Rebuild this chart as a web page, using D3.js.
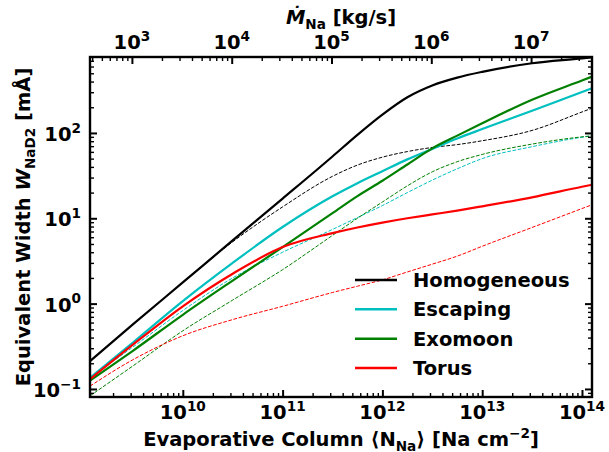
<!DOCTYPE html>
<html>
<head>
<meta charset="utf-8">
<script src="https://cdn.jsdelivr.net/npm/d3@7"></script>
<style>
  body { margin: 0; background: #fff; }
  svg text { font-family: "DejaVu Sans", sans-serif; font-weight: bold; fill: #000; }
</style>
</head>
<body>
<svg id="chart" width="609" height="452"></svg>
<script>
// Evaporative sodium column density <N_Na> [Na cm^-2]
const columnDensity = [1.175e9, 3.16e9, 1e10, 3.16e10, 1e11, 3.16e11, 5.62e11, 1e12,
                       1.78e12, 3.16e12, 5.62e12, 1e13, 3.16e13, 1e14, 1.26e14];

// Equivalent width of Na D2 [mÅ], solid curves
const homogeneous = [0.212, 0.57, 1.77, 5.5, 17, 53, 95, 164, 262, 360, 445, 520, 655, 748, 770];
const escaping    = [0.135, 0.35, 1.07, 3.0, 7.9, 18.1, 25.8, 35.6, 49, 65, 86, 111, 182, 302, 334];
const exomoon     = [0.125, 0.28, 0.74, 1.86, 4.6, 11.5, 18.2, 27.5, 42.7, 66, 93, 130, 245, 412, 457];
const torus       = [0.13, 0.33, 0.93, 2.24, 4.6, 6.7, 7.8, 8.9, 10, 11.1, 12.3, 13.8, 17.6, 23.4, 24.7];

// Equivalent width of Na D2 [mÅ], dashed companion curves
const homogeneousDashed = [0.212, 0.57, 1.77, 5.3, 13.6, 31, 42, 52, 60.5, 67.6, 73, 81, 107, 176, 195];
const escapingDashed    = [0.135, 0.31, 0.83, 2.0, 4.0, 7.4, 10.2, 14.1, 20, 28, 38, 50, 69, 89, 92.5];
const exomoonDashed     = [0.083, 0.186, 0.48, 1.1, 2.5, 6.3, 10, 15.5, 24, 35, 46, 56, 74, 90, 92.5];
const torusDashed       = [0.108, 0.22, 0.42, 0.65, 0.93, 1.35, 1.6, 1.9, 2.35, 2.9, 3.6, 4.7, 7.8, 13, 14.4];

const seriesNames = ["Homogeneous", "Escaping", "Exomoon", "Torus"];
const seriesColors = ["#000000", "#00bfbf", "#008000", "#ff0000"];

// Tick exponents
const bottomExponents = [10, 11, 12, 13, 14];
const topExponents = [3, 4, 5, 6, 7];
const leftExponents = [-1, 0, 1, 2];

// Conversion from column density to sodium mass-loss rate [kg/s]
const massRatePerColumn = Math.pow(10, -6.49);

const xDomain = [1.175e9, 1.26e14];
const yDomain = [0.0805, 776];

const svg = d3.select("#chart");
const margin = { left: 90, right: 592, top: 57, bottom: 397 };

const x = d3.scaleLog().domain(xDomain).range([margin.left, margin.right]);
const xTop = d3.scaleLog().domain(xDomain.map(v => v * massRatePerColumn)).range([margin.left, margin.right]);
const y = d3.scaleLog().domain(yDomain).range([margin.bottom, margin.top]);

function minorTicks(scale) {
  const [a, b] = scale.domain();
  const out = [];
  for (let d = Math.floor(Math.log10(a)); d <= Math.ceil(Math.log10(b)); d++) {
    for (let k = 2; k <= 9; k++) {
      const v = k * Math.pow(10, d);
      if (v >= a && v <= b) out.push(v);
    }
  }
  return out;
}

function drawTicks(axisFn, scale, majors, transform) {
  const gMaj = svg.append("g").attr("transform", transform)
    .call(axisFn(scale).tickValues(majors).tickSize(-7).tickFormat(""));
  gMaj.select(".domain").remove();
  gMaj.selectAll("line").attr("stroke", "#000").attr("stroke-width", 2);
  const gMin = svg.append("g").attr("transform", transform)
    .call(axisFn(scale).tickValues(minorTicks(scale)).tickSize(-4).tickFormat(""));
  gMin.select(".domain").remove();
  gMin.selectAll("line").attr("stroke", "#000").attr("stroke-width", 1.4);
}

const pow10 = e => Math.pow(10, e);

// Curves
const line = d3.line()
  .x(d => x(d[0]))
  .y(d => y(d[1]))
  .curve(d3.curveMonotoneX);

const plot = svg.append("g");
const dashedSets = [homogeneousDashed, escapingDashed, exomoonDashed, torusDashed];
const solidSets = [homogeneous, escaping, exomoon, torus];

dashedSets.forEach((vals, i) => {
  plot.append("path")
    .datum(columnDensity.map((n, j) => [n, vals[j]]))
    .attr("d", line)
    .attr("fill", "none")
    .attr("stroke", seriesColors[i])
    .attr("stroke-width", 1)
    .attr("stroke-dasharray", "3.7,1.6");
});
solidSets.forEach((vals, i) => {
  plot.append("path")
    .datum(columnDensity.map((n, j) => [n, vals[j]]))
    .attr("d", line)
    .attr("fill", "none")
    .attr("stroke", seriesColors[i])
    .attr("stroke-width", 2.2);
});

// Ticks on all four sides, pointing inward
drawTicks(d3.axisBottom, x, bottomExponents.map(pow10), `translate(0,${margin.bottom})`);
drawTicks(d3.axisTop, xTop, topExponents.map(pow10), `translate(0,${margin.top})`);
drawTicks(d3.axisLeft, y, leftExponents.map(pow10), `translate(${margin.left},0)`);
drawTicks(d3.axisRight, y, leftExponents.map(pow10), `translate(${margin.right},0)`);

// Frame
svg.append("rect")
  .attr("x", margin.left).attr("y", margin.top)
  .attr("width", margin.right - margin.left)
  .attr("height", margin.bottom - margin.top)
  .attr("fill", "none").attr("stroke", "#000").attr("stroke-width", 2.4);

// Power-of-ten labels
const tickFont = 19.5;
function powerLabel(g, px, py, exp, anchor) {
  const t = g.append("text")
    .attr("x", px).attr("y", py)
    .attr("text-anchor", anchor)
    .style("font-size", tickFont + "px");
  t.append("tspan").text("10");
  t.append("tspan")
    .attr("dy", -0.42 * tickFont)
    .style("font-size", (tickFont * 0.7) + "px")
    .text(exp < 0 ? "\u2212" + (-exp) : String(exp));
}

const labels = svg.append("g");
bottomExponents.forEach(e => powerLabel(labels, x(pow10(e)), 419, e, "middle"));
topExponents.forEach(e => powerLabel(labels, xTop(pow10(e)), 49, e, "middle"));
leftExponents.forEach(e => powerLabel(labels, 81, y(pow10(e)) + 8, e, "end"));

// Axis titles
const titleFont = 19.5, subFont = 13.6;
const xTitle = svg.append("text")
  .attr("x", (margin.left + margin.right) / 2).attr("y", 446)
  .attr("text-anchor", "middle")
  .style("font-size", titleFont + "px");
xTitle.append("tspan").text("Evaporative Column \u27E8N");
xTitle.append("tspan").attr("dy", 4.5).style("font-size", subFont + "px").text("Na");
xTitle.append("tspan").attr("dy", -4.5).text("\u27E9 [Na cm");
xTitle.append("tspan").attr("dy", -8).style("font-size", subFont + "px").text("\u22122");
xTitle.append("tspan").attr("dy", 8).text("]");

const topTitle = svg.append("text")
  .attr("x", (margin.left + margin.right) / 2).attr("y", 24)
  .attr("text-anchor", "middle")
  .style("font-size", titleFont + "px");
topTitle.append("tspan").style("font-style", "italic").text("\u1E40");
topTitle.append("tspan").attr("dy", 4.5).style("font-size", subFont + "px").text("Na");
topTitle.append("tspan").attr("dy", -4.5).text(" [kg/s]");

const yTitle = svg.append("text")
  .attr("transform", `translate(30,${(margin.top + margin.bottom) / 2}) rotate(-90)`)
  .attr("text-anchor", "middle")
  .style("font-size", titleFont + "px");
yTitle.append("tspan").text("Equivalent Width ");
yTitle.append("tspan").style("font-style", "italic").text("W");
yTitle.append("tspan").attr("dy", 4.5).style("font-size", subFont + "px").text("NaD2");
yTitle.append("tspan").attr("dy", -4.5).text(" [mÅ]");

// Legend
const legend = svg.append("g");
const legendRows = [280, 309.3, 338.7, 368];
seriesNames.forEach((name, i) => {
  legend.append("line")
    .attr("x1", 355).attr("x2", 397)
    .attr("y1", legendRows[i]).attr("y2", legendRows[i])
    .attr("stroke", seriesColors[i]).attr("stroke-width", 2.6);
  legend.append("text")
    .attr("x", 413).attr("y", legendRows[i] + 7)
    .style("font-size", "19.5px")
    .text(name);
});
</script>
</body>
</html>
